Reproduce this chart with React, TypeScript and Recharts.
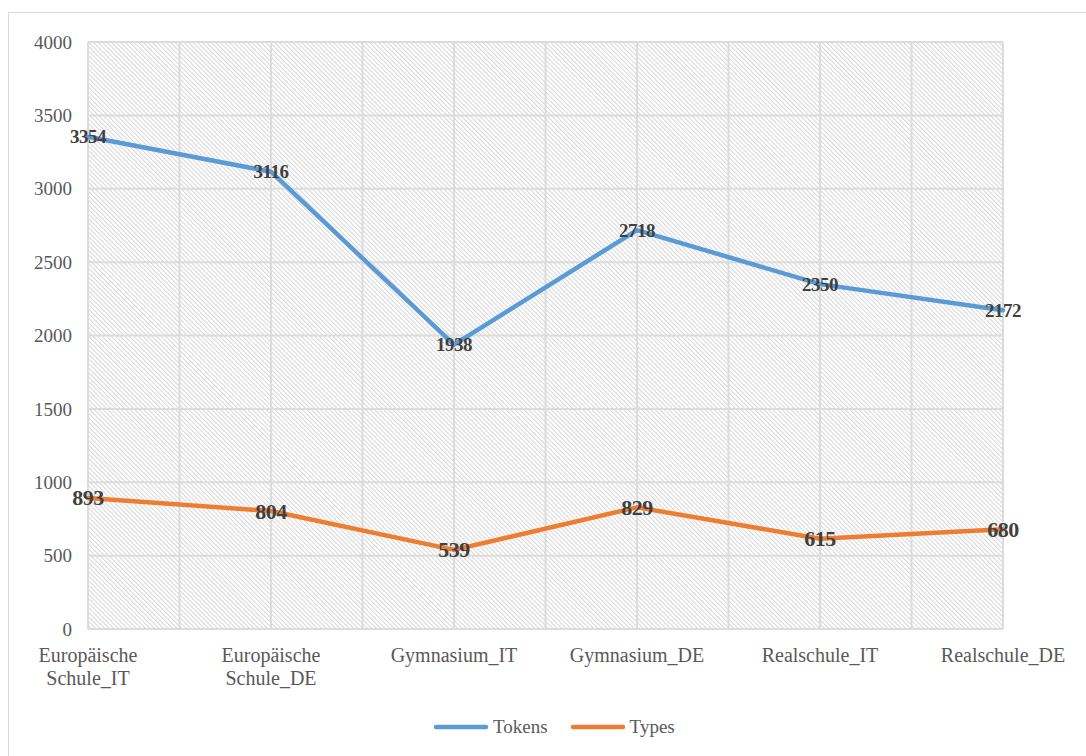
import { LineChart, Line, XAxis, YAxis, CartesianGrid, LabelList } from 'recharts'

const schools = [
  'Europäische Schule_IT',
  'Europäische Schule_DE',
  'Gymnasium_IT',
  'Gymnasium_DE',
  'Realschule_IT',
  'Realschule_DE',
]
const tokens = [3354, 3116, 1938, 2718, 2350, 2172]
const types = [893, 804, 539, 829, 615, 680]
const yTicks = [0, 500, 1000, 1500, 2000, 2500, 3000, 3500, 4000]
const xTicks = [0, 0.5, 1, 1.5, 2, 2.5, 3, 3.5, 4, 4.5, 5]

const data = schools.map((name, i) => ({ idx: i, name, tokens: tokens[i], types: types[i] }))

const FONT = "'Liberation Serif', 'Times New Roman', serif"
const BLUE = '#5B9BD5'
const ORANGE = '#ED7D31'

function SchoolTick(props: any) {
  const { x, y, payload } = props
  const v = payload.value
  if (!Number.isInteger(v)) return null
  const lines = schools[v].split(' ')
  return (
    <text x={x} y={y} textAnchor="middle" fill="#595959" fontSize={20} style={{ fontFamily: FONT }}>
      {lines.map((l, i) => (
        <tspan key={i} x={x} dy={i === 0 ? 27 : 23}>
          {l}
        </tspan>
      ))}
    </text>
  )
}

const pointLabel = (size: number) => (props: any) => (
  <text
    x={props.x}
    y={props.y}
    textAnchor="middle"
    dominantBaseline="central"
    fontSize={size}
    fontWeight="bold"
    fill="#404040"
    letterSpacing={-0.5}
    style={{ fontFamily: FONT }}
  >
    {props.value}
  </text>
)

export default function App() {
  return (
    <div
      style={{
        position: 'absolute',
        left: 8,
        top: 12,
        width: 1078,
        height: 744,
        borderLeft: '1px solid #d9d9d9',
        borderTop: '1px solid #d9d9d9',
        boxSizing: 'border-box',
        background: '#fff',
        fontFamily: FONT,
      }}
    >
      <LineChart width={1077} height={743} data={data} margin={{ top: 29, right: 83, left: 0, bottom: 67 }}>
        <defs>
          <pattern id="hatch" patternUnits="userSpaceOnUse" width={3.2} height={3.2} patternTransform="rotate(-45)">
            <rect x={0} y={0} width={3.2} height={3.2} fill="#ffffff" />
            <rect x={0} y={0} width={1} height={3.2} fill="#d6d6d6" />
          </pattern>
        </defs>
        <CartesianGrid fill="url(#hatch)" fillOpacity={1} stroke="#dcdcdc" strokeWidth={2} />
        <XAxis
          type="number"
          dataKey="idx"
          domain={[0, 5]}
          ticks={xTicks}
          interval={0}
          axisLine={false}
          tickLine={false}
          tickMargin={0}
          height={60}
          tick={<SchoolTick />}
        />
        <YAxis
          domain={[0, 4000]}
          ticks={yTicks}
          width={79}
          axisLine={false}
          tickLine={false}
          tickMargin={10}
          tick={{ fill: '#595959', fontSize: 19, style: { fontFamily: FONT } }}
        />
        <Line
          type="linear"
          dataKey="tokens"
          stroke={BLUE}
          strokeWidth={4.5}
          strokeLinecap="round"
          strokeLinejoin="round"
          dot={false}
          isAnimationActive={false}
        >
          <LabelList dataKey="tokens" content={pointLabel(19)} />
        </Line>
        <Line
          type="linear"
          dataKey="types"
          stroke={ORANGE}
          strokeWidth={4.5}
          strokeLinecap="round"
          strokeLinejoin="round"
          dot={false}
          isAnimationActive={false}
        >
          <LabelList dataKey="types" content={pointLabel(22)} />
        </Line>
      </LineChart>

      {/* Legend */}
      <div
        style={{
          position: 'absolute',
          left: 424,
          top: 702,
          height: 24,
          display: 'flex',
          alignItems: 'center',
          gap: 22,
          fontSize: 19,
          color: '#595959',
        }}
      >
        {[
          { label: 'Tokens', color: BLUE },
          { label: 'Types', color: ORANGE },
        ].map((item) => (
          <div key={item.label} style={{ display: 'flex', alignItems: 'center', gap: 4 }}>
            <svg width={56} height={8}>
              <line x1={3} y1={4} x2={53} y2={4} stroke={item.color} strokeWidth={4.5} strokeLinecap="round" />
            </svg>
            <span>{item.label}</span>
          </div>
        ))}
      </div>
    </div>
  )
}
